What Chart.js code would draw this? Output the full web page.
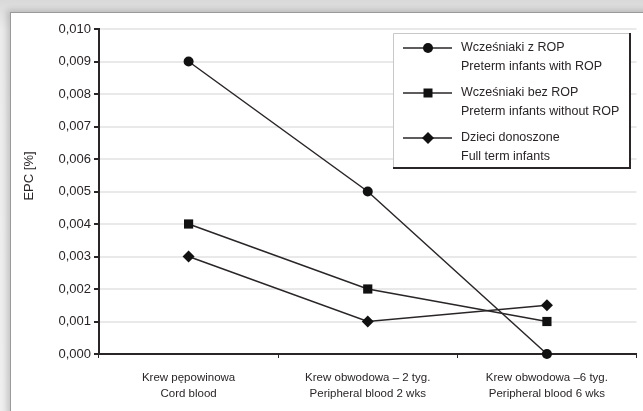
<!DOCTYPE html>
<html>
<head>
<meta charset="utf-8">
<script src="https://cdn.jsdelivr.net/npm/chart.js@4/dist/chart.umd.min.js"></script>
<style>
    html, body { margin: 0; padding: 0; }
    body {
        width: 643px; height: 411px; overflow: hidden; position: relative;
        background: linear-gradient(#d9d9d9, #ececec 30px, #efefef);
    }
    #cartao {
        position: absolute; left: 10px; top: 12px; width: 660px; height: 420px;
        background: #fff; border: 1px solid #9a9a9a;
        box-shadow: -3px -2px 6px rgba(0,0,0,0.18);
    }
    #myChart1 { position: absolute; left: 0; top: 0; }
</style>
</head>
<body>
<div id="cartao"></div>
<canvas id="myChart1" width="643" height="411"></canvas>
<script>
// dados do gráfico
const categorias = [
    ['Krew pępowinowa', 'Cord blood'],
    ['Krew obwodowa – 2 tyg.', 'Peripheral blood 2 wks'],
    ['Krew obwodowa –6 tyg.', 'Peripheral blood 6 wks']
];
const nomesSeries = [
    ['Wcześniaki z ROP', 'Preterm infants with ROP'],
    ['Wcześniaki bez ROP', 'Preterm infants without ROP'],
    ['Dzieci donoszone', 'Full term infants']
];
const comROP = [0.009, 0.005, 0.000];
const semROP = [0.004, 0.002, 0.001];
const donoszone = [0.003, 0.001, 0.0015];
const marcadores = ['circle', 'rect', 'rectRot'];
const tituloY = 'EPC [%]';

const fonte = "'Liberation Sans Narrow', 'Liberation Sans', Arial, sans-serif";
const corLinha = '#2a2627';
const corTexto = '#2a2627';

Chart.defaults.font.family = fonte;
Chart.defaults.color = corTexto;

function desenharMarcador(ctx, tipo, x, y) {
    ctx.beginPath();
    if (tipo === 'circle') {
        ctx.arc(x, y, 5, 0, Math.PI * 2);
    } else if (tipo === 'rect') {
        ctx.rect(x - 4.5, y - 4.5, 9, 9);
    } else {
        ctx.moveTo(x, y - 6); ctx.lineTo(x + 6, y); ctx.lineTo(x, y + 6); ctx.lineTo(x - 6, y);
        ctx.closePath();
    }
    ctx.fill();
}

// legenda desenhada a mao (rotulos com duas linhas) + titulo do eixo y
const legendaCaixa = {
    id: 'legendaCaixa',
    afterDraw(chart) {
        const ctx = chart.ctx;
        ctx.save();

        // titulo do eixo y (um pouco acima do centro, como no original)
        ctx.font = '13px ' + fonte;
        ctx.fillStyle = corTexto;
        ctx.translate(29, 176);
        ctx.rotate(-Math.PI / 2);
        ctx.textAlign = 'center';
        ctx.textBaseline = 'middle';
        ctx.fillText(tituloY, 0, 0);
        ctx.setTransform(1, 0, 0, 1, 0, 0);
        ctx.textAlign = 'left';

        const x0 = 393, y0 = 33, w = 237, h = 135;
        ctx.fillStyle = '#fff';
        ctx.fillRect(x0, y0, w, h);
        ctx.strokeStyle = '#c8c8c8';
        ctx.lineWidth = 1;
        ctx.beginPath();
        ctx.moveTo(x0 + 0.5, y0 + h); ctx.lineTo(x0 + 0.5, y0 + 0.5); ctx.lineTo(x0 + w, y0 + 0.5);
        ctx.stroke();
        ctx.strokeStyle = corLinha;
        ctx.lineWidth = 2;
        ctx.beginPath();
        ctx.moveTo(x0 + w, y0); ctx.lineTo(x0 + w, y0 + h); ctx.lineTo(x0, y0 + h);
        ctx.stroke();

        ctx.font = '12.5px ' + fonte;
        ctx.textBaseline = 'middle';
        chart.data.datasets.forEach((ds, i) => {
            const yl = 48 + i * 45;
            ctx.strokeStyle = corLinha;
            ctx.lineWidth = 1.5;
            ctx.beginPath();
            ctx.moveTo(403, yl); ctx.lineTo(452, yl);
            ctx.stroke();
            ctx.fillStyle = '#111';
            desenharMarcador(ctx, marcadores[i], 428, yl);
            ctx.fillStyle = corTexto;
            ds.label.forEach((linha, j) => ctx.fillText(linha, 461, yl + j * 18.5));
        });
        ctx.restore();
    }
};

const series = [comROP, semROP, donoszone];

const dados = {
    labels: categorias,
    datasets: series.map((valores, i) => ({
        label: nomesSeries[i],
        data: valores,
        borderColor: corLinha,
        backgroundColor: '#111',
        borderWidth: 1.5,
        pointStyle: marcadores[i],
        pointRadius: i === 1 ? 6.5 : (i === 2 ? 6 : 5),
        pointBorderWidth: 0,
        tension: 0,
        clip: false
    }))
};

const config = {
    type: 'line',
    data: dados,
    options: {
        responsive: false,
        animation: false,
        layout: { padding: { left: 40, right: 4, top: 29, bottom: 0 } },
        plugins: { legend: { display: false }, tooltip: { enabled: false } },
        scales: {
            x: {
                offset: true,
                grid: { offset: true, drawOnChartArea: false, tickLength: 4, color: corLinha },
                border: { color: corLinha, width: 2 },
                ticks: { font: { size: 11.5, lineHeight: 1.45 }, padding: 11, maxRotation: 0 },
                afterFit(scale) { scale.height = 57; }
            },
            y: {
                min: 0,
                max: 0.010,
                ticks: {
                    stepSize: 0.001,
                    font: { size: 13 },
                    padding: 3,
                    callback: v => v.toFixed(3).replace('.', ',')
                },
                grid: { color: '#e9e9e9', lineWidth: 2, tickLength: 5, tickColor: corLinha },
                border: { color: corLinha, width: 2 },
                afterFit(scale) { scale.width = 59; }
            }
        }
    },
    plugins: [legendaCaixa]
};

let myChart_EPC = new Chart(document.getElementById('myChart1'), config);
</script>
</body>
</html>
